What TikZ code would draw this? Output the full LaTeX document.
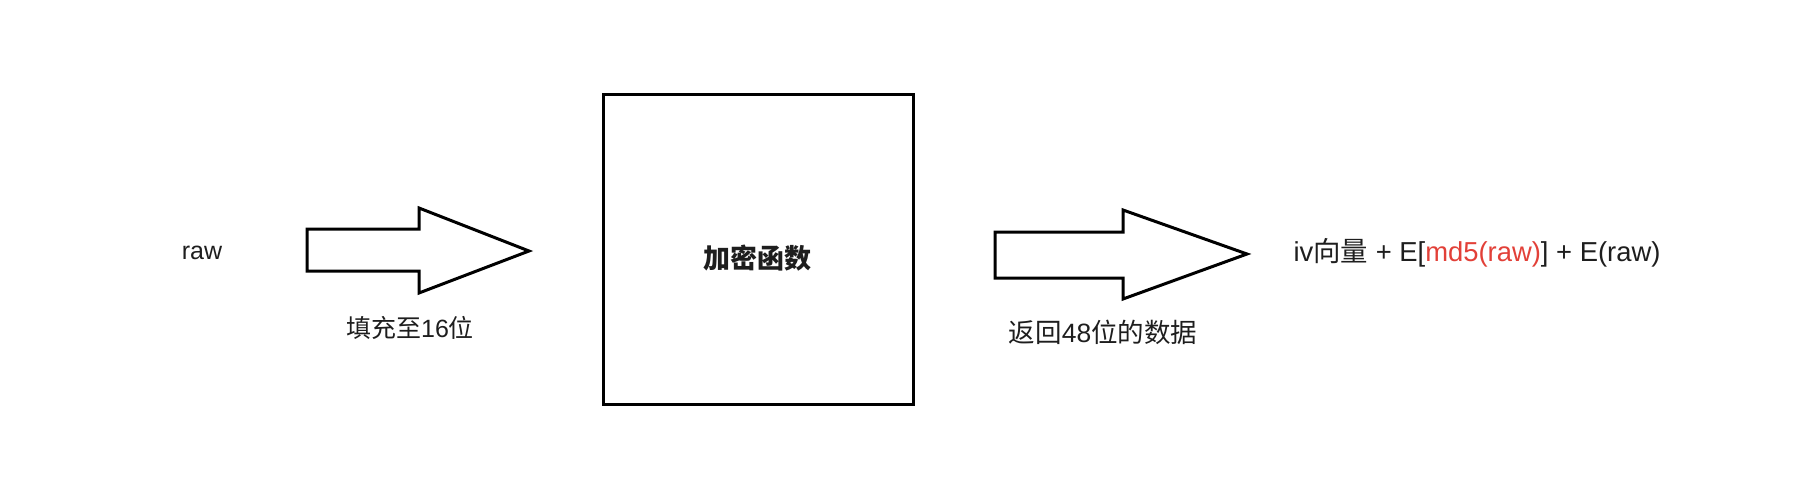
\documentclass[tikz,border=0pt]{standalone}
\usepackage{fontspec}
\setmainfont{Liberation Sans}
\newfontfamily\cjk{Noto Sans CJK SC}
\definecolor{txt}{RGB}{30,30,30}
\definecolor{redtxt}{RGB}{226,64,56}
\tikzset{
  bigarrow/.style={draw=black, line width=3pt, fill=white, line join=miter},
  funcbox/.style={draw=black, line width=3pt, fill=white, minimum width=310pt, minimum height=309pt, inner sep=0pt},
  lbl/.style={text=txt, font=\fontsize{25}{30}\selectfont, inner sep=0pt, anchor=center}
}
\begin{document}
\begin{tikzpicture}[x=1pt,y=-1pt]
\useasboundingbox (0,0) rectangle (1800,500);
% first arrow
\draw[bigarrow] (307,229) -- (419,229) -- (419,208) -- (529,251) -- (419,293) -- (419,271) -- (307,271) -- cycle;
% second arrow
\draw[bigarrow] (995,232) -- (1123,232) -- (1123,210) -- (1247,254) -- (1123,299) -- (1123,278) -- (995,278) -- cycle;
% box
\node[funcbox] (func) at (758,249.5) {};
\node[lbl, font=\fontsize{27}{32}\selectfont\cjk\bfseries] (functext) at (757,258) {加密函数};
\node[lbl] (raw) at (202,253) {raw};
\node[lbl] (pad) at (410,328) {{\cjk 填充至}16{\cjk 位}};
\node[lbl, font=\fontsize{26.5}{31}\selectfont] (ret) at (1103,332) {{\cjk 返回}48{\cjk 位的数据}};
\node[lbl, font=\fontsize{27.4}{32}\selectfont] (out) at (1477,253) {iv{\cjk 向量} + E[{\color{redtxt}md5(raw)}] + E(raw)};
\end{tikzpicture}
\end{document}
